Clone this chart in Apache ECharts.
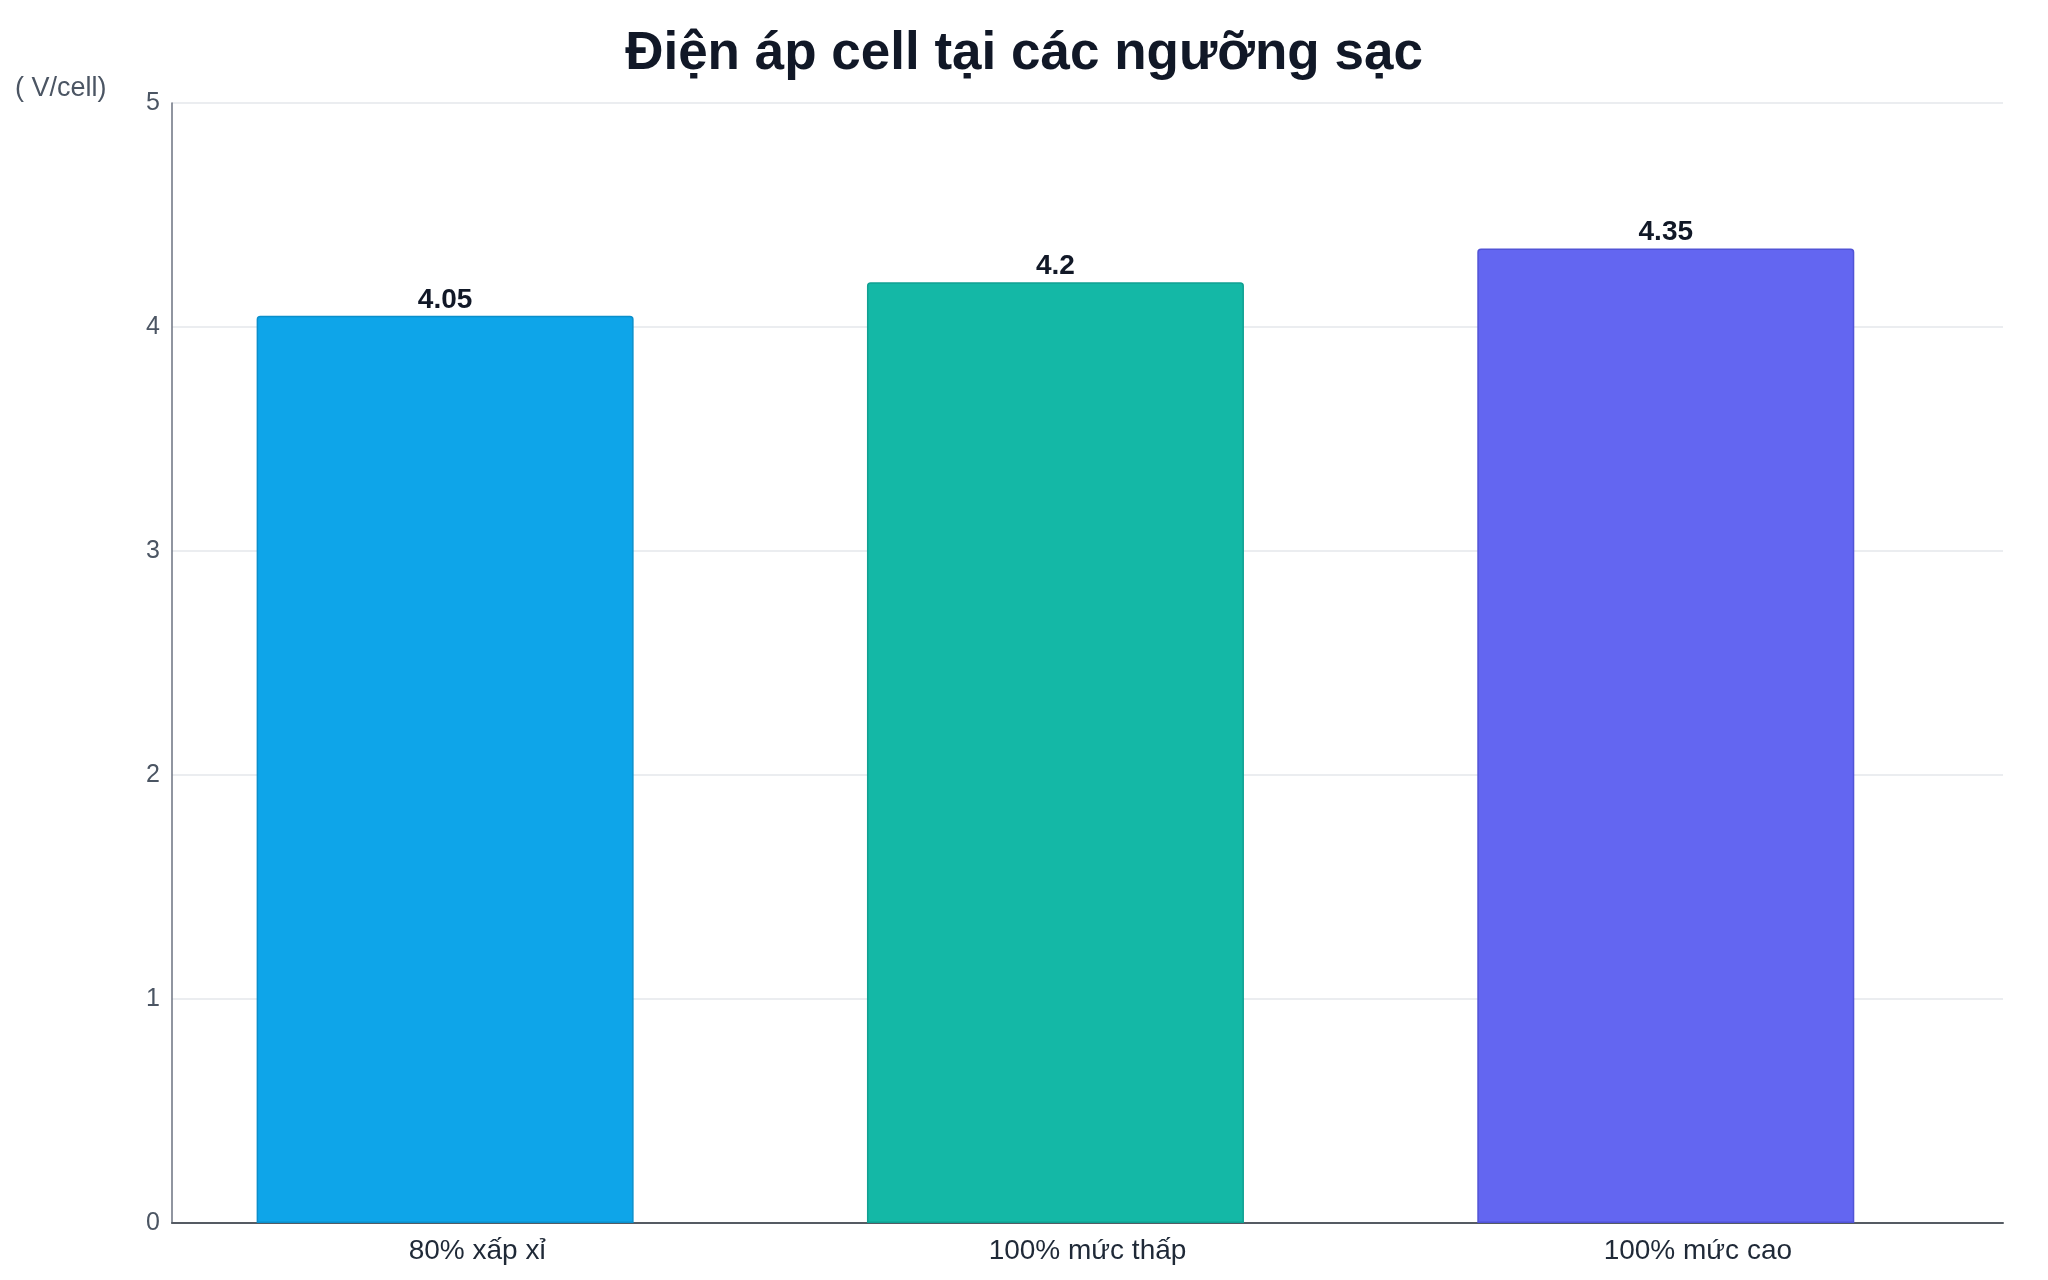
<!DOCTYPE html>
<html>
<head>
<meta charset="utf-8">
<title>Điện áp cell tại các ngưỡng sạc</title>
<script src="https://cdn.jsdelivr.net/npm/echarts@6/dist/echarts.min.js"></script>
<style>
  html, body { margin: 0; padding: 0; background: #ffffff; }
  #container { width: 2048px; height: 1280px; }
</style>
</head>
<body>
<div id="container"></div>
<script>
// dữ liệu
var categories = ['80% xấp xỉ', '100% mức thấp', '100% mức cao'];
var voltages = [4.05, 4.2, 4.35];
var barColors = ['#0ea5e9', '#14b8a6', '#6366f1'];
var borderColors = ['#0b8fcb', '#10a092', '#5153d6'];
var yTicks = [0, 1, 2, 3, 4, 5];

var FONT = "'Liberation Sans', Arial, Helvetica, sans-serif";

function drawChart() {
	var dom = document.getElementById('container');
	var myChart = echarts.init(dom);

	var option = {
		backgroundColor: '#ffffff',
		animation: false,
		title: [{
			text: 'Điện áp cell tại các ngưỡng sạc',
			left: 'center',
			top: 23,
			textStyle: {
				fontFamily: FONT,
				fontSize: 53,
				fontWeight: 'bold',
				color: '#111827'
			}
		}, {
			text: '( V/cell)',
			left: 15,
			top: 75,
			padding: 0,
			textStyle: {
				fontFamily: FONT,
				fontSize: 27,
				fontWeight: 'normal',
				color: '#4b5563'
			}
		}],
		grid: {
			left: 172,
			right: 45,
			top: 103,
			bottom: 57,
			containLabel: false
		},
		xAxis: {
			type: 'category',
			data: categories,
			axisTick: { show: false },
			axisLine: {
				show: true,
				lineStyle: { color: '#555b63', width: 2 }
			},
			axisLabel: {
				margin: 14,
				fontFamily: FONT,
				fontSize: 28,
				color: '#1f2937'
			},
			splitLine: { show: false }
		},
		yAxis: {
			type: 'value',
			min: yTicks[0],
			max: yTicks[yTicks.length - 1],
			interval: 1,
			axisTick: { show: false },
			axisLine: {
				show: true,
				lineStyle: { color: '#6b7280', width: 1.5 }
			},
			axisLabel: {
				margin: 12,
				fontFamily: FONT,
				fontSize: 25,
				color: '#4b5563'
			},
			splitLine: {
				show: true,
				lineStyle: { color: '#e5e7eb', width: 1.5 }
			}
		},
		series: [{
			name: 'Điện áp',
			type: 'bar',
			barWidth: 377,
			barGap: '-83%',
			z: 3,
			label: {
				show: true,
				position: 'top',
				distance: 2,
				fontFamily: FONT,
				fontSize: 28,
				fontWeight: 'bold',
				color: '#111827'
			},
			data: voltages.map(function (v, i) {
				return {
					value: v,
					itemStyle: {
						color: barColors[i],
						borderColor: borderColors[i],
						borderWidth: 1.5,
						borderRadius: [3, 3, 0, 0]
					}
				};
			})
		}, {
			// chuỗi rỗng giữ chỗ để cột lệch trái như hình gốc
			name: 'spacer',
			type: 'bar',
			barWidth: 377,
			data: []
		}]
	};

	myChart.setOption(option, true);
}

window.onload = drawChart;
</script>
</body>
</html>
